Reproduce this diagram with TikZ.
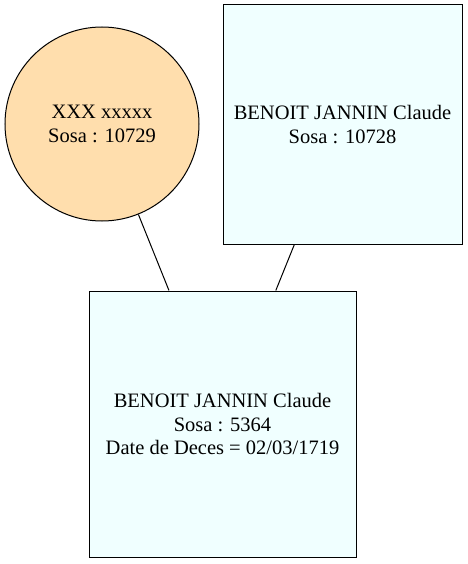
\documentclass[tikz,border=0pt]{standalone}
\usepackage{fontspec}
\setmainfont{Liberation Serif}
\definecolor{navajo}{HTML}{FFDEAD}
\definecolor{azurefill}{HTML}{F0FFFF}
\tikzset{
  person/.style={draw=black, line width=1pt, align=center, inner sep=0pt,
    font=\fontsize{20.5}{23.5}\selectfont},
  female/.style={person, circle, fill=navajo, minimum size=194pt},
  malebox/.style={person, rectangle, fill=azurefill},
  link/.style={draw=black, line width=1pt}
}
\begin{document}
\begin{tikzpicture}[x=1pt,y=-1pt]
\useasboundingbox (0,0) rectangle (467,564);
\node[female] (mother) at (102,124) {XXX xxxxx\\Sosa : 10729};
\node[malebox, minimum width=239pt, minimum height=239pt] (father) at (342.5,124.5) {BENOIT JANNIN Claude\\Sosa : 10728};
\node[malebox, minimum width=267pt, minimum height=266pt] (child) at (222.5,424) {BENOIT JANNIN Claude\\Sosa : 5364\\Date de Deces = 02/03/1719};
\draw[link] (mother) -- (child);
\draw[link] (father) -- (child);
\end{tikzpicture}
\end{document}
